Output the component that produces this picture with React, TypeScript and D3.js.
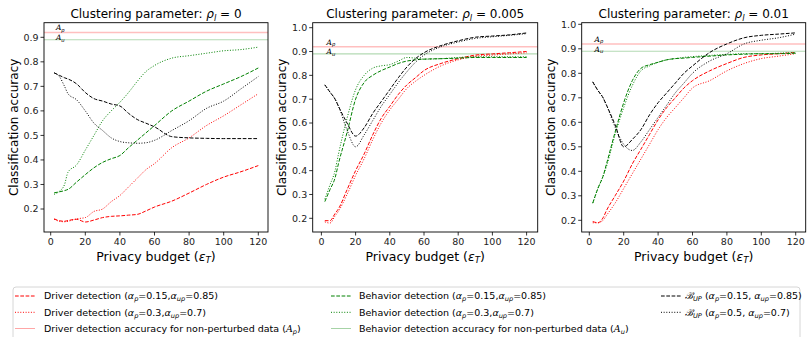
import React from "react";
import * as d3 from "d3";

const budgets = [2, 5, 8, 10, 15, 20, 25, 30, 35, 40, 45, 50, 55, 60, 70, 80, 90, 100, 110, 120];

// rho_l = 0
const p0DriverDash = [0.16, 0.152, 0.15, 0.153, 0.158, 0.147, 0.155, 0.165, 0.17, 0.172, 0.175, 0.178, 0.192, 0.208, 0.232, 0.265, 0.3, 0.33, 0.352, 0.377];
const p0DriverDot = [0.158, 0.15, 0.148, 0.15, 0.16, 0.165, 0.19, 0.2, 0.23, 0.255, 0.29, 0.325, 0.36, 0.385, 0.45, 0.49, 0.54, 0.58, 0.625, 0.67];
const p0BehDash = [0.266, 0.27, 0.275, 0.28, 0.31, 0.34, 0.368, 0.39, 0.405, 0.418, 0.45, 0.48, 0.51, 0.54, 0.6, 0.64, 0.68, 0.71, 0.74, 0.775];
const p0BehDot = [0.26, 0.272, 0.3, 0.35, 0.38, 0.44, 0.5, 0.56, 0.6, 0.635, 0.675, 0.72, 0.76, 0.785, 0.815, 0.825, 0.835, 0.845, 0.85, 0.86];
const p0BupDash = [0.755, 0.745, 0.735, 0.73, 0.71, 0.675, 0.65, 0.64, 0.628, 0.62, 0.59, 0.565, 0.55, 0.535, 0.495, 0.49, 0.488, 0.487, 0.487, 0.487];
const p0BupDot = [0.755, 0.74, 0.7, 0.67, 0.645, 0.6, 0.55, 0.52, 0.49, 0.475, 0.47, 0.468, 0.47, 0.48, 0.52, 0.56, 0.61, 0.64, 0.69, 0.74];

// rho_l = 0.005
const p1DriverDash = [0.19, 0.19, 0.22, 0.24, 0.32, 0.4, 0.47, 0.55, 0.62, 0.67, 0.72, 0.76, 0.79, 0.82, 0.85, 0.87, 0.885, 0.89, 0.895, 0.9];
const p1DriverDot = [0.185, 0.18, 0.21, 0.23, 0.3, 0.38, 0.45, 0.53, 0.6, 0.655, 0.7, 0.745, 0.775, 0.8, 0.84, 0.865, 0.88, 0.885, 0.89, 0.895];
const p1BehDash = [0.27, 0.32, 0.37, 0.43, 0.56, 0.7, 0.77, 0.8, 0.82, 0.835, 0.85, 0.86, 0.865, 0.868, 0.87, 0.872, 0.875, 0.875, 0.875, 0.875];
const p1BehDot = [0.28, 0.34, 0.4, 0.47, 0.62, 0.74, 0.8, 0.83, 0.84, 0.845, 0.86, 0.875, 0.872, 0.868, 0.87, 0.875, 0.878, 0.878, 0.878, 0.878];
const p1BupDash = [0.76, 0.73, 0.7, 0.67, 0.6, 0.545, 0.58, 0.64, 0.69, 0.74, 0.79, 0.835, 0.87, 0.895, 0.925, 0.945, 0.96, 0.965, 0.97, 0.978];
const p1BupDot = [0.76, 0.73, 0.7, 0.67, 0.57, 0.5, 0.55, 0.61, 0.67, 0.72, 0.77, 0.815, 0.855, 0.885, 0.92, 0.94, 0.955, 0.962, 0.968, 0.975];

// rho_l = 0.01
const p2DriverDash = [0.195, 0.19, 0.21, 0.24, 0.3, 0.36, 0.43, 0.49, 0.55, 0.61, 0.66, 0.7, 0.74, 0.77, 0.81, 0.84, 0.865, 0.875, 0.88, 0.885];
const p2DriverDot = [0.19, 0.19, 0.2, 0.22, 0.27, 0.33, 0.39, 0.45, 0.51, 0.57, 0.62, 0.66, 0.7, 0.74, 0.77, 0.81, 0.84, 0.86, 0.87, 0.88];
const p2BehDash = [0.27, 0.33, 0.38, 0.43, 0.56, 0.68, 0.77, 0.82, 0.835, 0.845, 0.855, 0.86, 0.862, 0.865, 0.87, 0.875, 0.878, 0.88, 0.88, 0.882];
const p2BehDot = [0.27, 0.33, 0.38, 0.42, 0.55, 0.66, 0.75, 0.81, 0.83, 0.845, 0.855, 0.86, 0.865, 0.868, 0.873, 0.877, 0.88, 0.88, 0.882, 0.885];
const p2BupDash = [0.765, 0.73, 0.7, 0.67, 0.59, 0.5, 0.53, 0.57, 0.63, 0.68, 0.72, 0.76, 0.8, 0.83, 0.885, 0.92, 0.945, 0.955, 0.96, 0.965];
const p2BupDot = [0.765, 0.73, 0.7, 0.67, 0.58, 0.51, 0.485, 0.52, 0.57, 0.62, 0.67, 0.72, 0.76, 0.8, 0.85, 0.88, 0.92, 0.935, 0.945, 0.96];

const accDriver = 0.92;
const accBehavior = 0.89;

const xTicks = [0, 20, 40, 60, 80, 100, 120];
const yTicks0 = [0.2, 0.3, 0.4, 0.5, 0.6, 0.7, 0.8, 0.9];
const yTicks1 = [0.2, 0.3, 0.4, 0.5, 0.6, 0.7, 0.8, 0.9, 1.0];
const rhoLabels = ["0", "0.005", "0.01"];

const RED = "#ff0000";
const GREEN = "#008000";
const BLACK = "#000000";
const DASH = "3.7,1.6";
const DOT = "1,1.65";
const FONT = "DejaVu Sans, sans-serif";

const panels = [
  { left: 44, right: 268, x0: 50.7, x120: 258.3, y02: 209, ytop: 37.3, vtop: 0.9, yTicks: yTicks0, rho: rhoLabels[0],
    series: [p0DriverDash, p0DriverDot, p0BehDash, p0BehDot, p0BupDash, p0BupDot] },
  { left: 312.7, right: 537.7, x0: 321.4, x120: 526.6, y02: 218.3, ytop: 27.7, vtop: 1.0, yTicks: yTicks1, rho: rhoLabels[1],
    series: [p1DriverDash, p1DriverDot, p1BehDash, p1BehDot, p1BupDash, p1BupDot] },
  { left: 581.7, right: 805.7, x0: 589.3, x120: 795.7, y02: 220.3, ytop: 24.3, vtop: 1.0, yTicks: yTicks1, rho: rhoLabels[2],
    series: [p2DriverDash, p2DriverDot, p2BehDash, p2BehDot, p2BupDash, p2BupDot] },
];

const styles = [
  { color: RED, dash: DASH },
  { color: RED, dash: DOT },
  { color: GREEN, dash: DASH },
  { color: GREEN, dash: DOT },
  { color: BLACK, dash: DASH },
  { color: BLACK, dash: DOT },
];

const TOP = 22.7;
const BOTTOM = 232;

// segments: [text, kind] kind: n normal, i italic, s subscript, c script letter
type Seg = [string, string];

function MathText({ x, y, segs, size, anchor }: { x: number; y: number; segs: Seg[]; size: number; anchor?: string }) {
  return (
    <text x={x} y={y} fontSize={size} fontFamily={FONT} textAnchor={anchor || "start"} fill="#000">
      {segs.map(([t, k], i) => {
        if (k === "s")
          return (
            <tspan key={i} fontSize={size * 0.7} fontStyle="italic" dy={size * 0.22}>
              {t}
            </tspan>
          );
        const prevSub = i > 0 && segs[i - 1][1] === "s";
        const dy = prevSub ? -size * 0.22 : undefined;
        if (k === "i")
          return (
            <tspan key={i} fontStyle="italic" dy={dy}>
              {t}
            </tspan>
          );
        if (k === "c")
          return (
            <tspan key={i} fontStyle="italic" fontFamily="DejaVu Serif, serif" dy={dy}>
              {t}
            </tspan>
          );
        return (
          <tspan key={i} dy={dy}>
            {t}
          </tspan>
        );
      })}
    </text>
  );
}

function Panel({ p }: { p: (typeof panels)[number] }) {
  const x = d3.scaleLinear().domain([0, 120]).range([p.x0, p.x120]);
  const y = d3.scaleLinear().domain([0.2, p.vtop]).range([p.y02, p.ytop]);
  const line = (vals: number[]) =>
    d3
      .line<number>()
      .x((_, i) => x(budgets[i]))
      .y((v) => y(v))
      .curve(d3.curveMonotoneX)(vals) || "";
  const cx = (p.left + p.right) / 2;
  return (
    <g>
      <defs>
        <clipPath id={"clip" + p.left}>
          <rect x={p.left} y={TOP} width={p.right - p.left} height={BOTTOM - TOP} />
        </clipPath>
      </defs>
      <g clipPath={`url(#clip${p.left})`}>
        <line x1={p.left} x2={p.right} y1={y(accDriver)} y2={y(accDriver)} stroke="#ff0000" strokeOpacity={0.25} strokeWidth={1.5} />
        <line x1={p.left} x2={p.right} y1={y(accBehavior)} y2={y(accBehavior)} stroke="#008000" strokeOpacity={0.3} strokeWidth={1.1} />
        {p.series.map((s, i) => (
          <path key={i} d={line(s)} fill="none" stroke={styles[i].color} strokeWidth={1} strokeDasharray={styles[i].dash} />
        ))}
      </g>
      <MathText x={x(3)} y={y(accDriver) - 2.2} size={7.5} segs={[["A", "c"], ["p", "s"]]} />
      <MathText x={x(3)} y={y(accBehavior) + 0.3} size={7.5} segs={[["A", "c"], ["u", "s"]]} />
      <rect x={p.left} y={TOP} width={p.right - p.left} height={BOTTOM - TOP} fill="none" stroke="#000" strokeWidth={0.9} />
      {xTicks.map((t) => (
        <g key={t}>
          <line x1={x(t)} x2={x(t)} y1={BOTTOM} y2={BOTTOM + 3.5} stroke="#000" strokeWidth={0.8} />
          <text x={x(t)} y={BOTTOM + 13} fontSize={9.5} fontFamily={FONT} textAnchor="middle" fill="#222">
            {t}
          </text>
        </g>
      ))}
      {p.yTicks.map((t) => (
        <g key={t}>
          <line x1={p.left - 3.5} x2={p.left} y1={y(t)} y2={y(t)} stroke="#000" strokeWidth={0.8} />
          <text x={p.left - 5.5} y={y(t) + 3.4} fontSize={9.5} fontFamily={FONT} textAnchor="end" fill="#222">
            {t.toFixed(1)}
          </text>
        </g>
      ))}
      <MathText x={cx} y={BOTTOM + 28.5} size={12.5} anchor="middle" segs={[["Privacy budget (", "n"], ["ε", "i"], ["T", "s"], [")", "n"]]} />
      <g transform={`translate(${p.left - 26.5},${(TOP + BOTTOM) / 2}) rotate(-90)`}>
        <text x={0} y={0} fontSize={12} fontFamily={FONT} textAnchor="middle" fill="#000">
          Classification accuracy
        </text>
      </g>
      <MathText x={cx} y={18} size={12} anchor="middle" segs={[["Clustering parameter: ", "n"], ["ρ", "i"], ["l", "s"], [" = " + p.rho, "n"]]} />
    </g>
  );
}

const legendItems: { col: number; row: number; color: string; dash?: string; faint?: boolean; segs: Seg[] }[] = [
  { col: 0, row: 0, color: RED, dash: DASH, segs: [["Driver detection (", "n"], ["α", "i"], ["p", "s"], ["=0.15,", "n"], ["α", "i"], ["up", "s"], ["=0.85)", "n"]] },
  { col: 0, row: 1, color: RED, dash: DOT, segs: [["Driver detection (", "n"], ["α", "i"], ["p", "s"], ["=0.3,", "n"], ["α", "i"], ["up", "s"], ["=0.7)", "n"]] },
  { col: 0, row: 2, color: RED, faint: true, segs: [["Driver detection accuracy for non-perturbed data (", "n"], ["A", "c"], ["p", "s"], [")", "n"]] },
  { col: 1, row: 0, color: GREEN, dash: DASH, segs: [["Behavior detection (", "n"], ["α", "i"], ["p", "s"], ["=0.15,", "n"], ["α", "i"], ["up", "s"], ["=0.85)", "n"]] },
  { col: 1, row: 1, color: GREEN, dash: DOT, segs: [["Behavior detection (", "n"], ["α", "i"], ["p", "s"], ["=0.3,", "n"], ["α", "i"], ["up", "s"], ["=0.7)", "n"]] },
  { col: 1, row: 2, color: GREEN, faint: true, segs: [["Behavior detection accuracy for non-perturbed data (", "n"], ["A", "c"], ["u", "s"], [")", "n"]] },
  { col: 2, row: 0, color: BLACK, dash: DASH, segs: [["ℬ", "c"], ["UP", "s"], [" (", "n"], ["α", "i"], ["p", "s"], ["=0.15, ", "n"], ["α", "i"], ["up", "s"], ["=0.85)", "n"]] },
  { col: 2, row: 1, color: BLACK, dash: DOT, segs: [["ℬ", "c"], ["UP", "s"], [" (", "n"], ["α", "i"], ["p", "s"], ["=0.5, ", "n"], ["α", "i"], ["up", "s"], ["=0.7)", "n"]] },
];

const legendLineX = [15, 331, 661];
const legendTextX = [44, 359, 685];
const legendRowY = [296, 312.3, 328.5];

export default function App() {
  return (
    <svg width={811} height={337} style={{ position: "absolute", left: 0, top: 0, background: "#fff" }}>
      {panels.map((p, i) => (
        <Panel key={i} p={p} />
      ))}
      <rect x={13} y={287} width={787} height={62} rx={3} fill="#fff" stroke="#cccccc" strokeWidth={0.8} />
      {legendItems.map((it, i) => (
        <g key={i}>
          <line
            x1={legendLineX[it.col]}
            x2={legendLineX[it.col] + 20}
            y1={legendRowY[it.row]}
            y2={legendRowY[it.row]}
            stroke={it.color}
            strokeOpacity={it.faint ? 0.35 : 1}
            strokeWidth={1}
            strokeDasharray={it.dash}
          />
          <MathText x={legendTextX[it.col]} y={legendRowY[it.row] + 3.3} size={9.5} segs={it.segs} />
        </g>
      ))}
    </svg>
  );
}
